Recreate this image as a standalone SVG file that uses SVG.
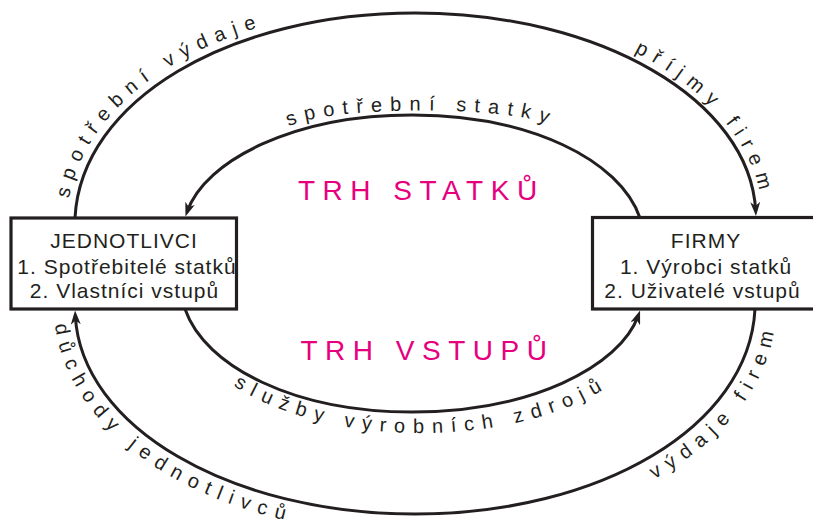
<svg xmlns="http://www.w3.org/2000/svg" width="813" height="519" viewBox="0 0 813 519">
<style>
.box{fill:#fff;stroke:#231f20;stroke-width:3.2}
.flow{fill:none;stroke:#231f20;stroke-width:3}
.bt{font-family:"Liberation Sans",Arial,sans-serif;font-size:21px;fill:#231f20;text-anchor:middle;letter-spacing:1px}
.lbl{font-family:"Liberation Sans",Arial,sans-serif;font-size:20px;fill:#231f20;letter-spacing:8px}
.mkt{font-family:"Liberation Sans",Arial,sans-serif;font-size:28px;fill:#e6007e;letter-spacing:7.5px}
</style>
<defs>
<marker id="ah" markerUnits="userSpaceOnUse" markerWidth="14" markerHeight="10" viewBox="0 0 14 10" refX="9" refY="5" orient="auto"><path d="M0,0 L14,5 L0,10 L4,5 z" fill="#231f20"/></marker>
<path id="tp1" d="M67,216.5 C73.2,94.8 225.7,5 415,5"/>
<path id="tp2" d="M415,5 C604.3,5 756.8,94.8 763,216.5"/>
<path id="tp3" d="M289,127 C324,105 519,105 554,127"/>
<path id="tp4" d="M173,315.4 C194.9,381.6 293.1,433 421,433 C549.9,433 648.1,381.6 670,315.4"/>
<path id="tp5" d="M54,312.8 C60.4,440.7 218.6,535 415,535"/>
<path id="tp6" d="M415,535 C611.4,535 769.6,440.7 776,312.8"/>
</defs>
<rect width="813" height="519" fill="#fff"/>
<g id="connectors">
<path class="flow" d="M75,218 C81,100 230,13 415,13 C600,13 750,100 755.7,211" marker-end="url(#ah)"/>
<path class="flow" d="M755,309 C749,427 600,514 415,514 C230,514 81,427 75.3,315.5" marker-end="url(#ah)"/>
<path class="flow" d="M640,218 C620,160 530,115 412,115 C295,115 205,160 187.1,211.8" marker-end="url(#ah)"/>
<path class="flow" d="M185,309 C205,367 295,412 412,412 C530,412 620,367 638.4,315.2" marker-end="url(#ah)"/>
<text class="lbl"><textPath href="#tp1" startOffset="18">spotřební výdaje</textPath></text>
<text class="lbl"><textPath href="#tp2" startOffset="226">příjmy firem</textPath></text>
<text class="lbl" text-anchor="middle"><textPath href="#tp3" startOffset="50%">spotřební statky</textPath></text>
<text class="lbl" text-anchor="middle"><textPath href="#tp4" startOffset="50%">služby výrobních zdrojů</textPath></text>
<text class="lbl"><textPath href="#tp5" startOffset="12">důchody jednotlivců</textPath></text>
<text class="lbl"><textPath href="#tp6" startOffset="248">výdaje firem</textPath></text>
</g>
<g id="jednotlivci">
<rect class="box" x="11" y="218" width="225.5" height="91"/>
<text class="bt" x="124" y="247.5">JEDNOTLIVCI</text>
<text class="bt" x="127" y="273.5">1. Spotřebitelé statků</text>
<text class="bt" x="124.5" y="298">2. Vlastníci vstupů</text>
</g>
<g id="firmy">
<rect class="box" x="592.5" y="217.5" width="226" height="91.5"/>
<text class="bt" x="706" y="247.5">FIRMY</text>
<text class="bt" x="706" y="273.5">1. Výrobci statků</text>
<text class="bt" x="702.5" y="298">2. Uživatelé vstupů</text>
</g>
<g id="trh-statku">
<text class="mkt" x="298" y="200">TRH STATKŮ</text>
</g>
<g id="trh-vstupu">
<text class="mkt" x="300.5" y="360">TRH VSTUPŮ</text>
</g>
</svg>
